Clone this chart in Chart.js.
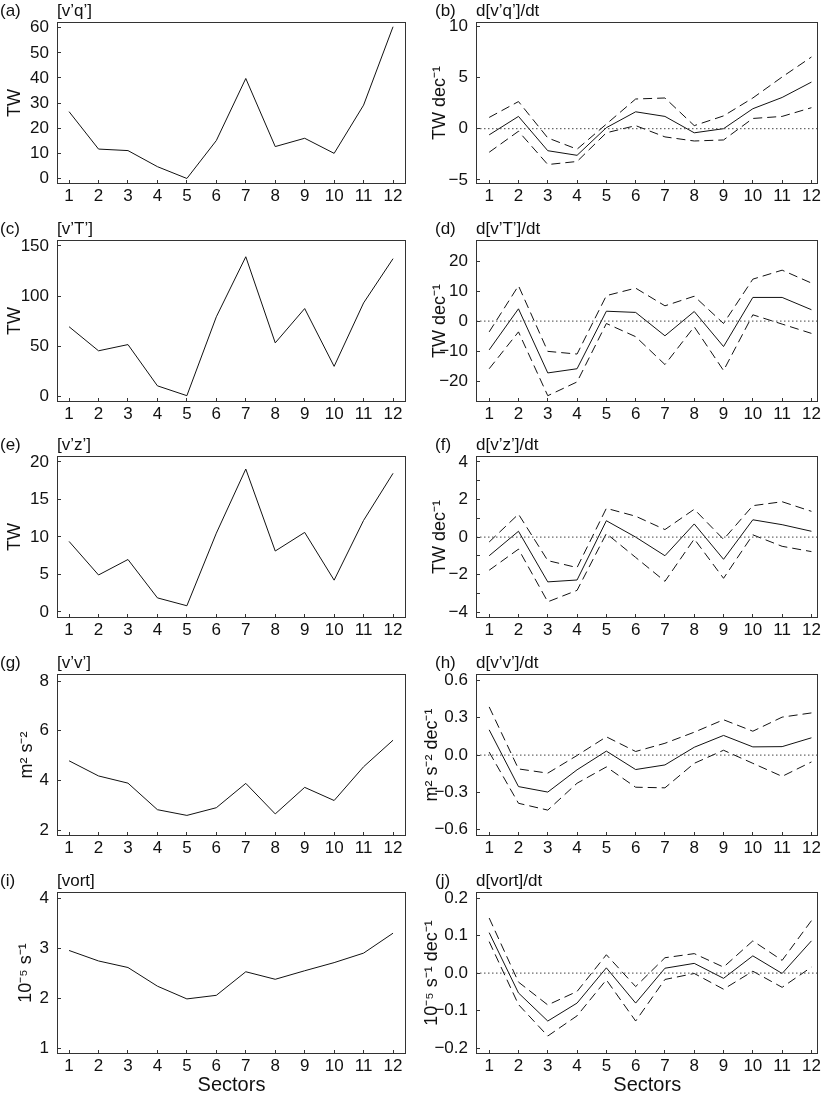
<!DOCTYPE html>
<html>
<head>
<meta charset="utf-8">
<script src="https://cdn.jsdelivr.net/npm/chart.js@4"></script>
<style>
  html, body { margin: 0; padding: 0; background: #fff; overflow: hidden; }
  .painel { position: absolute; }
</style>
</head>
<body>
<script>
// Sectors along the x axis
const sectors = [1, 2, 3, 4, 5, 6, 7, 8, 9, 10, 11, 12];

// (a) [v'q'] and (b) its trend with bounds
const vqMean = [26.6, 11.7, 11.1, 4.7, 0.0, 15.1, 39.8, 12.7, 16.0, 10.0, 29.2, 60.4];
const dvqTrend = [-0.6, 1.2, -2.15, -2.6, 0.1, 1.65, 1.2, -0.4, 0.0, 1.95, 3.05, 4.55];
const dvqUpper = [1.1, 2.65, -0.9, -2.0, 0.45, 2.9, 3.0, 0.3, 1.25, 3.0, 5.05, 7.0];
const dvqLower = [-2.3, -0.25, -3.5, -3.2, -0.4, 0.3, -0.8, -1.2, -1.1, 1.0, 1.2, 2.05];

// (c) [v'T'] and (d)
const vtMean = [69.4, 45.4, 51.6, 10.5, 0.7, 79.3, 139.1, 53.3, 87.5, 29.9, 93.1, 137.2];
const dvtTrend = [-9.6, 4.1, -17.3, -15.9, 3.3, 2.9, -4.9, 3.2, -8.5, 7.9, 7.9, 3.8];
const dvtUpper = [-3.6, 11.8, -10.1, -11.0, 8.5, 11.0, 5.1, 8.3, -0.8, 14.0, 17.0, 12.7];
const dvtLower = [-15.9, -3.6, -24.9, -20.3, -0.8, -5.2, -14.5, -1.9, -16.5, 2.1, -1.0, -4.1];

// (e) [v'z'] and (f)
const vzMean = [9.4, 4.93, 6.99, 1.88, 0.83, 10.5, 19.04, 8.12, 10.6, 4.24, 12.2, 18.47];
const dvzTrend = [-0.99, 0.31, -2.38, -2.28, 0.87, 0.0, -0.99, 0.70, -1.18, 0.92, 0.66, 0.31];
const dvzUpper = [-0.26, 1.22, -1.25, -1.62, 1.53, 1.11, 0.4, 1.48, -0.12, 1.67, 1.88, 1.37];
const dvzLower = [-1.76, -0.64, -3.44, -2.83, 0.19, -1.08, -2.35, -0.10, -2.19, 0.12, -0.49, -0.77];

// (g) [v'v'] and (h)
const vvMean = [4.79, 4.18, 3.89, 2.82, 2.59, 2.90, 3.88, 2.65, 3.72, 3.19, 4.55, 5.62];
const dvvTrend = [0.203, -0.253, -0.297, -0.118, 0.032, -0.116, -0.079, 0.063, 0.158, 0.066, 0.068, 0.139];
const dvvUpper = [0.387, -0.111, -0.145, -0.003, 0.147, 0.029, 0.095, 0.184, 0.284, 0.192, 0.305, 0.339];
const dvvLower = [0.024, -0.387, -0.442, -0.226, -0.095, -0.258, -0.263, -0.066, 0.039, -0.066, -0.171, -0.055];

// (i) [vort] and (j)
const vortMean = [2.953, 2.743, 2.612, 2.238, 1.983, 2.055, 2.527, 2.376, 2.547, 2.710, 2.900, 3.299];
const dvortTrend = [0.108, -0.053, -0.128, -0.080, 0.014, -0.080, 0.013, 0.026, -0.014, 0.046, -0.001, 0.086];
const dvortUpper = [0.147, -0.024, -0.085, -0.049, 0.049, -0.036, 0.041, 0.052, 0.016, 0.086, 0.034, 0.140];
const dvortLower = [0.084, -0.084, -0.168, -0.114, -0.018, -0.128, -0.017, -0.001, -0.043, 0.005, -0.038, 0.016];

// Y tick values
const ticksVq = [0, 10, 20, 30, 40, 50, 60];
const ticksDvq = [-5, 0, 5, 10];
const ticksVt = [0, 50, 100, 150];
const ticksDvt = [-20, -10, 0, 10, 20];
const ticksVz = [0, 5, 10, 15, 20];
const ticksDvz = [-4, -3, -2, -1, 0, 1, 2, 3, 4];
const labelsDvz = [-4, -2, 0, 2, 4];
const ticksVv = [2, 4, 6, 8];
const ticksDvv = [-0.6, -0.3, 0, 0.3, 0.6];
const ticksVort = [1, 2, 3, 4];
const ticksDvort = [-0.2, -0.1, 0, 0.1, 0.2];

Chart.defaults.font.family = "'Liberation Sans', Arial, Helvetica, sans-serif";
Chart.defaults.color = '#111';

const fmt = (v, dec) => (v < 0 ? '\u2212' : '') + Math.abs(v).toFixed(dec);
const toPoints = arr => sectors.map((s, i) => ({ x: s, y: arr[i] }));

// Box around the plot area
const frame = {
    id: 'frame',
    afterDraw(chart) {
        const { ctx, chartArea: a } = chart;
        ctx.save();
        ctx.strokeStyle = '#333';
        ctx.lineWidth = 1;
        ctx.strokeRect(Math.round(a.left) + 0.5, Math.round(a.top) + 0.5,
            Math.round(a.right - a.left) - 1, Math.round(a.bottom - a.top) - 1);
        ctx.restore();
    }
};

// Panel letter and name above the box
const panelLabel = {
    id: 'panelLabel',
    afterDraw(chart, args, opts) {
        const { ctx, chartArea } = chart;
        ctx.save();
        ctx.font = "17px 'Liberation Sans', Arial, sans-serif";
        ctx.fillStyle = '#111';
        ctx.textBaseline = 'middle';
        const y = chartArea.top - 11;
        ctx.fillText(opts.letter, opts.letterX, y);
        ctx.fillText(opts.title, chartArea.left, y);
        ctx.restore();
    }
};

const columns = [
    { left: 0, width: 414, axisWidth: 57, padRight: 8, xMin: 0.59, xMax: 12.44, letterX: 0 },
    { left: 414, width: 413, axisWidth: 62, padRight: 6, xMin: 0.55, xMax: 12.24, letterX: 21 }
];
const rowTops = [20, 238, 454, 672, 890];
const boxHeight = 164;

const lineSet = (arr, dash) => ({
    data: toPoints(arr),
    borderColor: '#111',
    borderWidth: 1,
    borderDash: dash,
    pointRadius: 0,
    tension: 0
});

const createPanel = (p) => {
    const col = columns[p.col];
    const last = p.row === 4;
    const xHeight = last ? 45 : 30;
    const h = 20 + boxHeight + xHeight;

    const canvas = document.createElement('canvas');
    canvas.className = 'painel';
    canvas.width = col.width;
    canvas.height = h;
    canvas.style.left = col.left + 'px';
    canvas.style.top = (rowTops[p.row] - 20) + 'px';
    canvas.style.width = col.width + 'px';
    canvas.style.height = h + 'px';
    document.body.appendChild(canvas);

    const datasets = [];
    if (p.mean) {
        datasets.push(lineSet(p.mean, []));
    } else {
        datasets.push({
            data: [{ x: col.xMin, y: 0 }, { x: col.xMax, y: 0 }],
            borderColor: '#444',
            borderWidth: 1,
            borderDash: [1.5, 2.5],
            pointRadius: 0
        });
        datasets.push(lineSet(p.upper, [9, 5]));
        datasets.push(lineSet(p.lower, [9, 5]));
        datasets.push(lineSet(p.trend, []));
    }

    const labels = p.yLabels || p.yTicks;

    new Chart(canvas, {
        type: 'line',
        data: { datasets: datasets },
        plugins: [frame, panelLabel],
        options: {
            responsive: false,
            animation: false,
            layout: { padding: { top: 20, right: col.padRight, left: 0, bottom: 0 } },
            plugins: {
                legend: { display: false },
                tooltip: { enabled: false },
                panelLabel: { letter: p.letter, title: p.title, letterX: col.letterX }
            },
            scales: {
                x: {
                    type: 'linear',
                    min: col.xMin,
                    max: col.xMax,
                    afterBuildTicks: s => { s.ticks = sectors.map(v => ({ value: v })); },
                    afterFit: s => { s.height = xHeight; },
                    grid: { drawOnChartArea: false, tickLength: -4, color: '#333' },
                    border: { display: false },
                    ticks: { padding: 6, autoSkip: false, maxRotation: 0, font: { size: 17 }, callback: v => String(v) },
                    title: { display: last, text: 'Sectors', font: { size: 20 }, padding: { top: 0, bottom: 2 } }
                },
                y: {
                    type: 'linear',
                    min: p.yMin,
                    max: p.yMax,
                    afterBuildTicks: s => { s.ticks = p.yTicks.map(v => ({ value: v })); },
                    afterFit: s => { s.width = col.axisWidth; },
                    grid: { drawOnChartArea: false, tickLength: -4, color: '#333' },
                    border: { display: false },
                    ticks: { padding: 12, autoSkip: false, font: { size: 17 },
                        callback: v => labels.includes(v) ? fmt(v, p.dec) : '' },
                    title: { display: true, text: p.yTitle, font: { size: 18 },
                        padding: { top: p.yTitleX - 10.8, bottom: 0 } }
                }
            }
        }
    });
};

createPanel({ col: 0, row: 0, letter: '(a)', title: '[v’q’]', yTitle: 'TW', yTitleX: 15,
    yMin: -2.2, yMax: 62.2, yTicks: ticksVq, dec: 0, mean: vqMean });
createPanel({ col: 1, row: 0, letter: '(b)', title: 'd[v’q’]/dt', yTitle: 'TW dec⁻¹', yTitleX: 26,
    yMin: -5.4, yMax: 10.4, yTicks: ticksDvq, dec: 0, trend: dvqTrend, upper: dvqUpper, lower: dvqLower });

createPanel({ col: 0, row: 1, letter: '(c)', title: '[v’T’]', yTitle: 'TW', yTitleX: 15,
    yMin: -5.6, yMax: 155.6, yTicks: ticksVt, dec: 0, mean: vtMean });
createPanel({ col: 1, row: 1, letter: '(d)', title: 'd[v’T’]/dt', yTitle: 'TW dec⁻¹', yTitleX: 26,
    yMin: -27, yMax: 27, yTicks: ticksDvt, dec: 0, trend: dvtTrend, upper: dvtUpper, lower: dvtLower });

createPanel({ col: 0, row: 2, letter: '(e)', title: '[v’z’]', yTitle: 'TW', yTitleX: 15,
    yMin: -0.8, yMax: 20.75, yTicks: ticksVz, dec: 0, mean: vzMean });
createPanel({ col: 1, row: 2, letter: '(f)', title: 'd[v’z’]/dt', yTitle: 'TW dec⁻¹', yTitleX: 26,
    yMin: -4.3, yMax: 4.3, yTicks: ticksDvz, yLabels: labelsDvz, dec: 0, trend: dvzTrend, upper: dvzUpper, lower: dvzLower });

createPanel({ col: 0, row: 3, letter: '(g)', title: '[v’v’]', yTitle: 'm² s⁻²', yTitleX: 27,
    yMin: 1.76, yMax: 8.28, yTicks: ticksVv, dec: 0, mean: vvMean });
createPanel({ col: 1, row: 3, letter: '(h)', title: 'd[v’v’]/dt', yTitle: 'm² s⁻² dec⁻¹', yTitleX: 18,
    yMin: -0.65, yMax: 0.65, yTicks: ticksDvv, dec: 1, trend: dvvTrend, upper: dvvUpper, lower: dvvLower });

createPanel({ col: 0, row: 4, letter: '(i)', title: '[vort]', yTitle: '10⁻⁵ s⁻¹', yTitleX: 26,
    yMin: 0.88, yMax: 4.12, yTicks: ticksVort, dec: 0, mean: vortMean });
createPanel({ col: 1, row: 4, letter: '(j)', title: 'd[vort]/dt', yTitle: '10⁻⁵ s⁻¹ dec⁻¹', yTitleX: 18,
    yMin: -0.216, yMax: 0.216, yTicks: ticksDvort, dec: 1, trend: dvortTrend, upper: dvortUpper, lower: dvortLower });
</script>
</body>
</html>
